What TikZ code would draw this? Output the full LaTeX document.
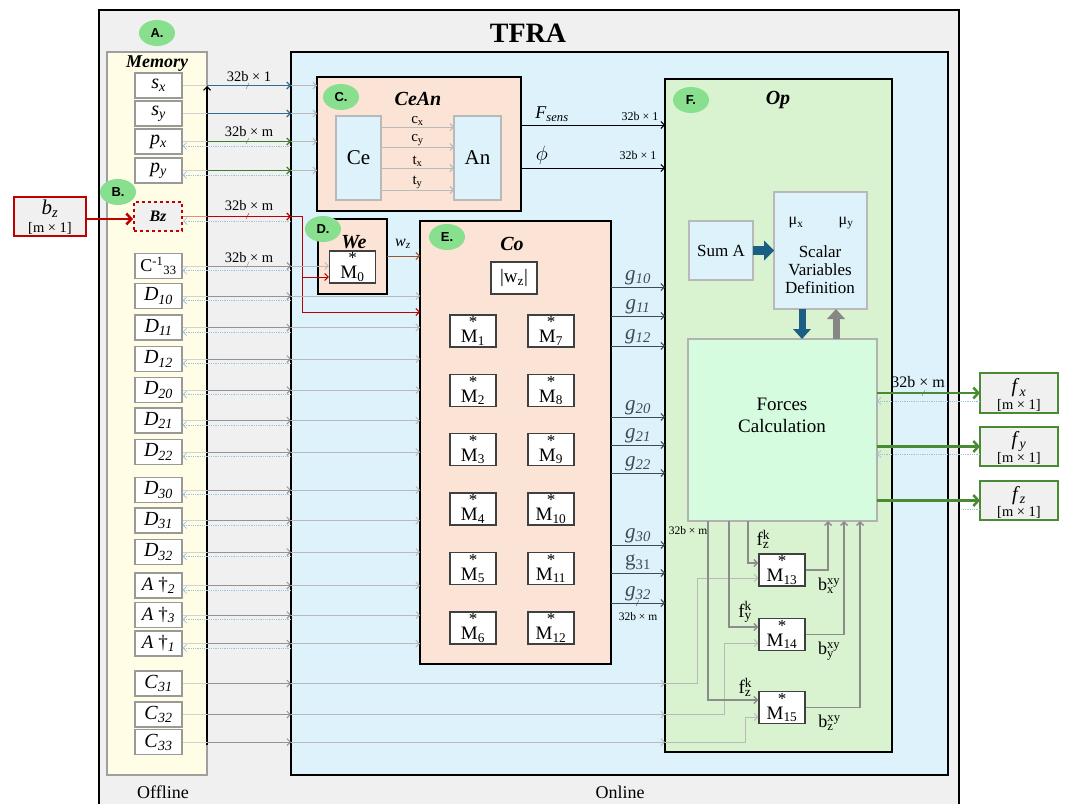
\documentclass[tikz,border=0pt]{standalone}
\usepackage{fontspec}
\setmainfont{Liberation Serif}
\newfontfamily\tagfont{Liberation Sans}
\usetikzlibrary{arrows.meta,shapes.geometric,calc}
\definecolor{tfrabg}{HTML}{F0F0F0}
\definecolor{memfill}{HTML}{FFFDE6}
\definecolor{onfill}{HTML}{DDF2FB}
\definecolor{peach}{HTML}{FBE3D6}
\definecolor{opfill}{HTML}{D9F2D0}
\definecolor{fcfill}{HTML}{D5FCDF}
\definecolor{lblue}{HTML}{DDF2FB}
\definecolor{tag}{HTML}{88E08F}
\definecolor{busblue}{HTML}{2E6F96}
\definecolor{busgreen}{HTML}{3C7F2E}
\definecolor{fgreen}{HTML}{4A8A34}
\definecolor{redc}{HTML}{C00000}
\definecolor{thickblue}{HTML}{1B5F85}
\definecolor{dotblue}{HTML}{9CC3DA}
\definecolor{wzbrown}{HTML}{A0522D}
\definecolor{gout}{HTML}{3D4B55}
\newcommand\fsz[1]{\fontsize{#1}{#1}\selectfont}
\newcommand\ivar[2]{\textit{#1}\textsubscript{\textit{#2}}}
\newcommand\ssb[3]{#1\rlap{\textsuperscript{#2}}\textsubscript{#3}}
\newcommand\Mst[1]{{\fsz{17}*}\\[-4pt]M\textsubscript{#1}}
\begin{document}
\begin{tikzpicture}[x=1pt,y=-1pt,
  arr/.style={-{Straight Barb[length=3.5pt,width=7pt]}},
  area/.style={draw=black,line width=1.8pt,inner sep=0pt,outer sep=0pt,anchor=north west},
  tagell/.style={ellipse,fill=tag,minimum width=36pt,minimum height=26pt,inner sep=0pt,font=\tagfont\bfseries\fsz{13}},
  membox/.style={draw=gray!80,line width=1.2pt,fill=white,minimum width=47pt,minimum height=25pt,inner sep=0pt,font=\fsz{20}},
  mbox/.style={draw=black!75,line width=1.3pt,fill=white,minimum width=46pt,minimum height=32pt,inner sep=0pt,align=center,font=\fsz{19}},
  lbbox/.style={draw=gray!55,line width=1.2pt,fill=lblue,inner sep=0pt,outer sep=0pt,anchor=north west},
  fbox/.style={draw=fgreen,line width=2pt,fill=tfrabg,inner sep=0pt,outer sep=0pt,anchor=north west,align=center,font=\fsz{18}},
  lbl/.style={font=\fsz{14.5},inner sep=0pt},
  slbl/.style={font=\fsz{11.5},inner sep=0pt},
  lg/.style={draw=gray!35,line width=0.9pt},
  gl/.style={draw=gray!85,line width=0.9pt},
  gl2/.style={draw=gray!55,line width=0.9pt},
  dotline/.style={draw=dotblue,line width=0.8pt,densely dotted},
  dgl/.style={draw=gray!90,line width=1.4pt},
  title/.style={font=\bfseries\itshape\fsz{20},inner sep=0pt}]
\path[use as bounding box] (0,0) rectangle (1067,803);
\fill[white] (0,0) rectangle (1067,803);
\begin{scope}
\clip (0,0) rectangle (1067,803);
\node[area,line width=1.2pt,fill=tfrabg,minimum width=860pt,minimum height=810pt] (tfra) at (99,10) {};
\end{scope}
\node[font=\bfseries\fsz{28},inner sep=0pt] (tfratxt) at (528,33) {TFRA};
% main areas
\node[area,draw=gray!75,line width=1.5pt,fill=memfill,minimum width=100pt,minimum height=723pt] (mem) at (107,52) {};
\node[area,fill=onfill,minimum width=657pt,minimum height=723pt] (on) at (291,52) {};
\node[title,font=\bfseries\itshape\fsz{18}] (memt) at (157,64) {Memory};
\node[font=\fsz{18},inner sep=0pt] (offl) at (163,792) {Offline};
\node[font=\fsz{18},inner sep=0pt] (onl) at (620,792) {Online};
% memory items
\node[membox] (sx) at (158.5,85.5) {\ivar{s}{x}};
\node[membox] (sy) at (158.5,113.5) {\ivar{s}{y}};
\node[membox] (px) at (158.5,141.5) {\ivar{p}{x}};
\node[membox] (py) at (158.5,170.5) {\ivar{p}{y}};
\node[membox,draw=redc,dashed,line width=2pt,fill=tfrabg,minimum height=29pt,minimum width=48pt,font=\bfseries\itshape\fsz{16}] (bz) at (158,216.5) {Bz};
\node[membox,font=\fsz{18}] (cinv) at (158.5,266) {C\textsuperscript{-1}\textsubscript{33}};
\node[membox] (d10) at (158.5,296) {\ivar{D}{10}};
\node[membox] (d11) at (158.5,327.5) {\ivar{D}{11}};
\node[membox] (d12) at (158.5,359) {\ivar{D}{12}};
\node[membox] (d20) at (158.5,390) {\ivar{D}{20}};
\node[membox] (d21) at (158.5,420.5) {\ivar{D}{21}};
\node[membox] (d22) at (158.5,452) {\ivar{D}{22}};
\node[membox] (d30) at (158.5,490) {\ivar{D}{30}};
\node[membox] (d31) at (158.5,520.5) {\ivar{D}{31}};
\node[membox] (d32) at (158.5,552) {\ivar{D}{32}};
\node[membox,font=\fsz{19}] (a2) at (158.5,585.5) {\textit{A} †\textsubscript{\textit{2}}};
\node[membox,font=\fsz{19}] (a3) at (158.5,615) {\textit{A} †\textsubscript{\textit{3}}};
\node[membox,font=\fsz{19}] (a1) at (158.5,643.5) {\textit{A} †\textsubscript{\textit{1}}};
\node[membox] (c31) at (158.5,683.5) {\ivar{C}{31}};
\node[membox] (c32) at (158.5,714.5) {\ivar{C}{32}};
\node[membox] (c33) at (158.5,742) {\ivar{C}{33}};
% external bz
\node[area,draw=redc,line width=1.8pt,fill=tfrabg,minimum width=72pt,minimum height=39pt] (bzext) at (14,197) {};
\node[font=\fsz{21},inner sep=0pt] (bzt) at (50,209) {\ivar{b}{z}};
\node[font=\fsz{14.5},inner sep=0pt] (bzd) at (50,228) {[m × 1]};
% tags
\node[tagell] (tA) at (157,33) {A.};
\node[tagell] (tB) at (118,192) {B.};
% CeAn
\node[area,fill=peach,minimum width=204pt,minimum height=134pt] (cean) at (317,77) {};
\node[tagell] (tC) at (341,97) {C.};
\node[title] (ceant) at (418,99) {CeAn};
\node[lbbox,minimum width=45pt,minimum height=84pt] (ce) at (336,116) {};
\node[font=\fsz{21}] at (ce.center) {Ce};
\node[lbbox,minimum width=47pt,minimum height=84pt] (an) at (454,116) {};
\node[font=\fsz{21}] at (an.center) {An};
\foreach \yy/\tt in {127/c\textsubscript{x},147/c\textsubscript{y},168/t\textsubscript{x},190/t\textsubscript{y}}{
  \draw[gl2,arr] (ce.east |- 0,\yy) -- (an.west |- 0,\yy) node[midway,above=1pt,font=\fsz{15},inner sep=0pt] {\tt};
}
% We
\node[area,fill=peach,minimum width=69pt,minimum height=75pt] (we) at (318,219) {};
\node[tagell] (tD) at (323,229) {D.};
\node[title] (wet) at (354,242) {We};
\node[mbox] (m0) at (352.5,267) {\Mst{0}};
% Co
\node[area,fill=peach,minimum width=191pt,minimum height=443pt] (co) at (420,221) {};
\node[tagell] (tE) at (447,237) {E.};
\node[title] (cot) at (512,244) {Co};
\node[mbox,font=\fsz{19}] (wz) at (514,278) {|w\textsubscript{z}|};
\foreach \n/\xx/\yy in {1/473/331,2/473/390.5,3/473/449.5,4/473/509,5/473/568.5,6/473/628,7/551/331,8/551/390.5,9/551/449.5,10/551/509,11/551/568.5,12/551/628}{
  \node[mbox] (M\n) at (\xx,\yy) {\Mst{\n}};
}
% Op
\node[area,fill=opfill,minimum width=227pt,minimum height=673pt] (op) at (665,79) {};
\node[tagell] (tF) at (691,100) {F.};
\node[title] (opt) at (778,100) {Op};
\node[lbbox,minimum width=64pt,minimum height=59pt] (suma) at (689,221) {};
\node[font=\fsz{17}] at (suma.center) {Sum A};
\node[lbbox,minimum width=93pt,minimum height=117pt] (svd) at (774,192) {};
\node[font=\fsz{16},inner sep=0pt] (mux) at (796,223) {μ\textsubscript{x}};
\node[font=\fsz{16},inner sep=0pt] (muy) at (846,223) {μ\textsubscript{y}};
\node[font=\fsz{17},align=center,inner sep=0pt] (svdt) at (820,270) {Scalar\\[1pt]Variables\\[1pt]Definition};
\node[area,draw=gray!60,line width=1.4pt,fill=fcfill,minimum width=189pt,minimum height=182pt] (fc) at (688,339) {};
\node[font=\fsz{19},align=center,inner sep=0pt] (fct) at (782,415) {Forces\\[3pt]Calculation};
\node[mbox] (M13) at (782,570) {\Mst{13}};
\node[mbox] (M14) at (782,634.5) {\Mst{14}};
\node[mbox] (M15) at (782,707.5) {\Mst{15}};
% outputs f
\node[fbox,minimum width=78pt,minimum height=40pt] (fx) at (980,373) {};
\node[fbox,minimum width=78pt,minimum height=39pt] (fy) at (980,427) {};
\node[fbox,minimum width=78pt,minimum height=39pt] (fz) at (980,481) {};
\node[font=\fsz{20},inner sep=0pt] at ($(fx.center)+(0,-5)$) {\ivar{f}{x}};
\node[font=\fsz{14.5},inner sep=0pt] at ($(fx.center)+(0,12)$) {[m × 1]};
\node[font=\fsz{20},inner sep=0pt] at ($(fy.center)+(0,-5)$) {\ivar{f}{y}};
\node[font=\fsz{14.5},inner sep=0pt] at ($(fy.center)+(0,12)$) {[m × 1]};
\node[font=\fsz{20},inner sep=0pt] at ($(fz.center)+(0,-5)$) {\ivar{f}{z}};
\node[font=\fsz{14.5},inner sep=0pt] at ($(fz.center)+(0,12)$) {[m × 1]};
% bus
\coordinate (bustop) at (207,86);
\coordinate (busbot) at (207,745);
\draw[black,line width=1.1pt,arr] (busbot) -- (bustop);
% s lines
\foreach \n/\c in {sx/busblue,sy/busblue,px/busgreen,py/busgreen}{
  \draw[lg] (\n.east) -- (\n.east -| bustop);
  \draw[draw=\c,line width=1.1pt,arr] (\n.east -| bustop) -- (\n.east -| on.west);
  \draw[gl2,arr] (\n.east -| on.west) -- (\n.east -| cean.west);
}
\foreach \n in {px,py,bz,cinv,d10,d11,d12,d20,d21,d22,d30,d31,d32,a2,a3,a1}{
  \draw[dotline,arr] ($(\n.east -| on.west)+(0,4.5)$) -- ($(\n.east)+(0,4.5)$);
}
\node[lbl] (l1) at (249,77) {32b × 1};
\node[lbl] (l2) at (249,132) {32b × m};
\node[lbl] (l3) at (249,206) {32b × m};
\node[lbl] (l4) at (249,258) {32b × m};
\draw[busblue] (246,89) -- (249,83);
\draw[busgreen] (246,144) -- (249,138);
\draw[redc] (246,219) -- (249,213);
\draw[gray] (246,268) -- (249,262);
% Bz red
\draw[redc!45,line width=1.1pt] (bz.east) -- (bz.east -| bustop);
\draw[redc,line width=1.1pt,arr] (bz.east -| bustop) -- (bz.east -| on.west);
\coordinate (rj1) at (302,216.5);
\coordinate (rj2) at (302,277);
\coordinate (rj3) at (302,312);
\draw[redc,line width=1pt,arr] (bz.east -| on.west) -- (rj1) -- (rj3) -- (co.west |- rj3);
\draw[redc,line width=1pt,arr] (rj2) -- (m0.west |- rj2);
\draw[redc,line width=2.5pt,-{Straight Barb[length=5pt,width=11pt]}] (bzext.east |- 0,219) -- (bz.west |- 0,219);
% C^-1 line
\draw[lg] (cinv.east) -- (cinv.east -| bustop);
\draw[gl,arr] (cinv.east -| bustop) -- (cinv.east -| on.west);
\draw[gl2,arr] (cinv.east -| on.west) -- (cinv.east -| m0.west);
% D / A lines to Co
\foreach \n in {d10,d11,d12,d20,d21,d22,d30,d31,d32,a2,a3,a1}{
  \draw[lg] (\n.east) -- (\n.east -| bustop);
  \draw[gl,arr] (\n.east -| bustop) -- (\n.east -| on.west);
  \draw[gl2,arr] (\n.east -| on.west) -- (\n.east -| co.west);
}
% C lines to Op
\foreach \n in {c31,c32,c33}{
  \draw[lg] (\n.east) -- (\n.east -| bustop);
  \draw[gl,arr] (\n.east -| bustop) -- (\n.east -| on.west);
  \draw[gl2,arr] (\n.east -| on.west) -- (\n.east -| op.west);
}
\draw[gl2,arr] (c31.east -| op.west) -- (697,683.5) -- (697,578) -- (M13.west |- 0,578);
\draw[gl2,arr] (c32.east -| op.west) -- (724,714.5) -- (724,643) -- (M14.west |- 0,643);
\draw[gl2,arr] (c33.east -| op.west) -- (745,742) -- (745,717) -- (M15.west |- 0,717);
% w_z
\draw[wzbrown,line width=1pt,arr] (we.east |- 0,256) -- (co.west |- 0,256);
\node[font=\fsz{16},inner sep=0pt] (wzl) at (403,244) {\ivar{w}{z}};
% CeAn outputs
\draw[black,line width=1pt,arr] (cean.east |- 0,125) -- (op.west |- 0,125);
\draw[black,line width=1pt,arr] (cean.east |- 0,168) -- (op.west |- 0,168);
\node[font=\fsz{18},inner sep=0pt] (fsl) at (552,114) {\ivar{F}{sens}};
\node[font=\fsz{20},inner sep=0pt] (phl) at (542,155) {$\phi$};
\node[slbl,font=\fsz{12}] at (640,116) {32b × 1};
\node[slbl,font=\fsz{12}] at (638,155) {32b × 1};
% g outputs
\foreach \yy/\tt in {287/\ivar{g}{10},316/\ivar{g}{11},346/\ivar{g}{12},417/\ivar{g}{20},445/\ivar{g}{21},473/\ivar{g}{22},545/\ivar{g}{30},573/g\textsubscript{31},603/\ivar{g}{32}}{
  \draw[gout,line width=1pt,arr] (co.east |- 0,\yy) -- (op.west |- 0,\yy) node[midway,above=2pt,font=\fsz{21},inner sep=0pt] {\tt};
}
\draw[gout] (636,606) -- (639,600);
\node[slbl] (g32l) at (638,617) {32b × m};
% Op internal arrows
\draw[thickblue,line width=9pt,-{Triangle[length=10pt,width=20pt,line width=0pt]}] (suma.east) -- (svd.west |- suma.east);
\draw[thickblue,line width=7pt,-{Triangle[length=10pt,width=18pt,line width=0pt]}] (svd.south -| 802,0) -- (fc.north -| 802,0);
\draw[gray!95,line width=7pt,-{Triangle[length=10pt,width=18pt,line width=0pt]}] (fc.north -| 836,0) -- (svd.south -| 836,0);
% Forces -> M
\draw[dgl,arr] (fc.south -| 748,0) -- (748,563) -- (M13.west |- 0,563);
\draw[dgl,arr] (fc.south -| 729,0) -- (729,627) -- (M14.west |- 0,627);
\draw[dgl,arr] (fc.south -| 708,0) -- (708,700) -- (M15.west |- 0,700);
\draw[dgl,arr] (M13.east) -- (828,570) -- (fc.south -| 828,0);
\draw[dgl,arr] (M14.east) -- (844,634.5) -- (fc.south -| 844,0);
\draw[dgl,arr] (M15.east) -- (860,707.5) -- (fc.south -| 860,0);
\node[font=\fsz{19},inner sep=0pt] (fk1) at (763,539) {\ssb{f}{k}{z}};
\node[font=\fsz{19},inner sep=0pt] (fk2) at (745,612) {\ssb{f}{k}{y}};
\node[font=\fsz{19},inner sep=0pt] (fk3) at (745,687) {\ssb{f}{k}{z}};
\node[font=\fsz{18},inner sep=0pt] (bx) at (826,586) {\ssb{b}{xy}{x}};
\node[font=\fsz{18},inner sep=0pt] (by) at (826,651) {\ssb{b}{xy}{y}};
\node[font=\fsz{18},inner sep=0pt] (bzz) at (826,723) {\ssb{b}{xy}{z}};
\node[slbl] (fcl) at (688,531) {32b × m};
% f outputs
\draw[fgreen,line width=2.5pt,-{Straight Barb[length=5pt,width=11pt]}] (fc.east |- fx.west) -- (fx.west);
\draw[fgreen,line width=2.5pt,-{Straight Barb[length=5pt,width=11pt]}] (fc.east |- fy.west) -- (fy.west);
\draw[fgreen,line width=2.5pt,-{Straight Barb[length=5pt,width=11pt]}] (fc.east |- fz.west) -- (fz.west);
\draw[dotline,arr] (fx.west |- 0,401) -- (fc.east |- 0,401);
\draw[dotline,arr] (fy.west |- 0,454) -- (fc.east |- 0,454);
\draw[dotline] (fz.west |- 0,509) -- (962,509);
\node[lbl,font=\fsz{16}] (fxl) at (918,382) {32b × m};
\draw[fgreen] (922,396) -- (925,390);
\end{tikzpicture}
\end{document}
